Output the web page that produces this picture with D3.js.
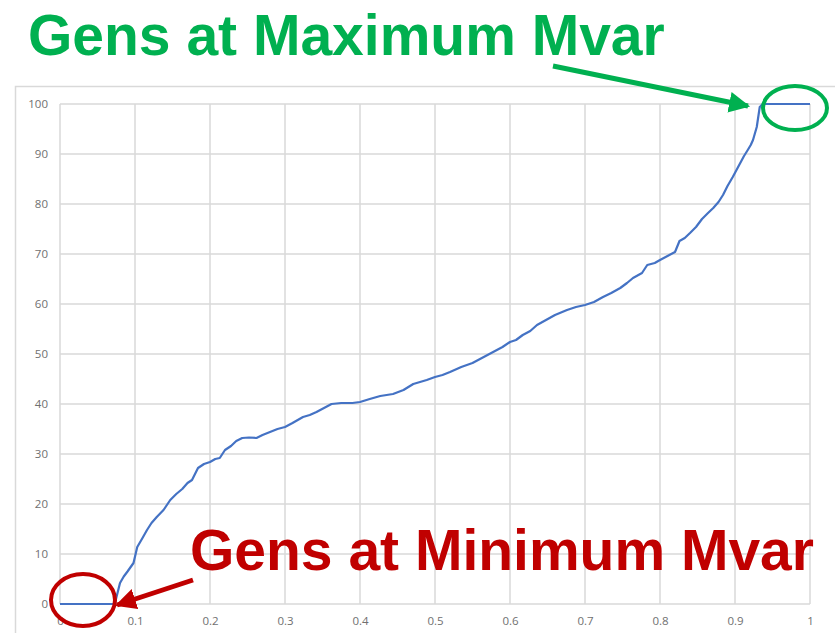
<!DOCTYPE html>
<html>
<head>
<meta charset="utf-8">
<script src="https://cdn.jsdelivr.net/npm/d3@7"></script>
<style>
  body { margin: 0; background: #fff; }
  svg { display: block; }
</style>
</head>
<body>
<script>
// data
const xVals = [0, 0.073, 0.076, 0.08, 0.085, 0.09, 0.098, 0.103, 0.11, 0.116, 0.122, 0.129, 0.138, 0.147,
  0.155, 0.163, 0.17, 0.176, 0.184, 0.192, 0.2, 0.207, 0.213, 0.22, 0.228, 0.235, 0.243, 0.252, 0.262,
  0.27, 0.28, 0.29, 0.3, 0.31, 0.324, 0.333, 0.342, 0.352, 0.362, 0.375, 0.39, 0.4, 0.413, 0.427, 0.444,
  0.458, 0.471, 0.489, 0.5, 0.51, 0.52, 0.535, 0.55, 0.565, 0.58, 0.59, 0.6, 0.608, 0.617, 0.627, 0.636,
  0.648, 0.66, 0.676, 0.688, 0.7, 0.712, 0.724, 0.735, 0.747, 0.756, 0.764, 0.776, 0.783, 0.793, 0.8,
  0.81, 0.82, 0.826, 0.833, 0.84, 0.848, 0.856, 0.864, 0.871, 0.878, 0.884, 0.89, 0.897, 0.902, 0.907,
  0.912, 0.917, 0.921, 0.924, 0.929, 0.933, 0.937, 1];
const yVals = [0, 0, 1.8, 4.2, 5.5, 6.5, 8.2, 11.4, 13.2, 14.8, 16.2, 17.4, 18.8, 20.8,
  22.0, 23.0, 24.2, 24.8, 27.2, 28.0, 28.4, 29.0, 29.2, 30.8, 31.6, 32.6, 33.2, 33.3, 33.2,
  33.8, 34.4, 35.0, 35.4, 36.2, 37.4, 37.8, 38.4, 39.2, 40, 40.2, 40.2, 40.4, 41.0, 41.6, 42,
  42.8, 44, 44.8, 45.4, 45.8, 46.4, 47.4, 48.2, 49.4, 50.6, 51.4, 52.4, 52.8, 53.8, 54.6, 55.8,
  56.8, 57.8, 58.8, 59.4, 59.8, 60.4, 61.4, 62.2, 63.2, 64.2, 65.2, 66.2, 67.8, 68.2, 68.8,
  69.6, 70.4, 72.6, 73.2, 74.2, 75.4, 77.0, 78.2, 79.2, 80.4, 81.8, 83.6, 85.4, 86.8, 88.2,
  89.6, 90.8, 91.8, 92.8, 95.4, 99.4, 100, 100];
const xTicks = [0, 0.1, 0.2, 0.3, 0.4, 0.5, 0.6, 0.7, 0.8, 0.9, 1];
const yTicks = [0, 10, 20, 30, 40, 50, 60, 70, 80, 90, 100];
const topLabel = 'Gens at Maximum Mvar';
const bottomLabel = 'Gens at Minimum Mvar';

const width = 835, height = 633;
const svg = d3.select('body').append('svg')
  .attr('width', width)
  .attr('height', height);

const x = d3.scaleLinear().domain([0, 1]).range([60, 810]);
const y = d3.scaleLinear().domain([0, 100]).range([604, 104]);

// chart frame
svg.append('rect')
  .attr('x', 15.5).attr('y', 86.5)
  .attr('width', 840).attr('height', 600)
  .attr('fill', 'none').attr('stroke', '#d9d9d9').attr('stroke-width', 1.5);

// gridlines
svg.append('g').selectAll('line').data(yTicks).join('line')
  .attr('x1', x(0)).attr('x2', x(1))
  .attr('y1', d => y(d)).attr('y2', d => y(d))
  .attr('stroke', '#d9d9d9').attr('stroke-width', 1.5);
svg.append('g').selectAll('line').data(xTicks).join('line')
  .attr('x1', d => x(d)).attr('x2', d => x(d))
  .attr('y1', y(0)).attr('y2', y(100))
  .attr('stroke', '#d9d9d9').attr('stroke-width', 1.5);

// axes (labels only)
const yAxis = svg.append('g')
  .attr('transform', `translate(${x(0)},0)`)
  .call(d3.axisLeft(y).tickValues(yTicks).tickSize(0).tickPadding(12).tickFormat(d3.format('d')));
const xAxis = svg.append('g')
  .attr('transform', `translate(0,${y(0)})`)
  .call(d3.axisBottom(x).tickValues(xTicks).tickSize(0).tickPadding(13).tickFormat(d => d === 0 || d === 1 ? d : d.toFixed(1)));
[yAxis, xAxis].forEach(g => {
  g.select('.domain').remove();
  g.selectAll('text')
    .attr('fill', '#707070')
    .style('font-family', 'Open Sans, sans-serif')
    .style('font-size', '11.5px');
});

// the curve
const pts = xVals.map((v, i) => [v, yVals[i]]);
svg.append('path')
  .datum(pts)
  .attr('fill', 'none')
  .attr('stroke', '#4472c4')
  .attr('stroke-width', 2.2)
  .attr('stroke-linejoin', 'round')
  .attr('d', d3.line().x(d => x(d[0])).y(d => y(d[1])));

// arrow markers
const defs = svg.append('defs');
function marker(id, color) {
  defs.append('marker')
    .attr('id', id)
    .attr('viewBox', '0 0 10 10')
    .attr('refX', 9).attr('refY', 5)
    .attr('markerWidth', 4.2).attr('markerHeight', 4.6)
    .attr('orient', 'auto')
    .append('path')
    .attr('d', 'M0,0 L10,5 L0,10 Z')
    .attr('fill', color);
}
marker('arrGreen', '#00b050');
marker('arrRed', '#c00000');

// max annotation
svg.append('text')
  .attr('x', 28).attr('y', 55)
  .attr('fill', '#00b050')
  .style('font-family', 'Liberation Sans, Arial, sans-serif')
  .style('font-weight', 'bold')
  .style('font-size', '57px')
  .text(topLabel);
svg.append('line')
  .attr('x1', 553).attr('y1', 66).attr('x2', 748).attr('y2', 106)
  .attr('stroke', '#00b050').attr('stroke-width', 5)
  .attr('marker-end', 'url(#arrGreen)');
svg.append('ellipse')
  .attr('cx', 795).attr('cy', 108).attr('rx', 32).attr('ry', 22)
  .attr('fill', 'none').attr('stroke', '#00b050').attr('stroke-width', 4);

// min annotation
svg.append('text')
  .attr('x', 190).attr('y', 570)
  .attr('fill', '#c00000')
  .style('font-family', 'Liberation Sans, Arial, sans-serif')
  .style('font-weight', 'bold')
  .style('font-size', '57px')
  .text(bottomLabel);
svg.append('line')
  .attr('x1', 193).attr('y1', 580).attr('x2', 117).attr('y2', 605)
  .attr('stroke', '#c00000').attr('stroke-width', 5)
  .attr('marker-end', 'url(#arrRed)');
svg.append('ellipse')
  .attr('cx', 83).attr('cy', 600).attr('rx', 32).attr('ry', 26)
  .attr('fill', 'none').attr('stroke', '#c00000').attr('stroke-width', 4);
</script>
</body>
</html>
